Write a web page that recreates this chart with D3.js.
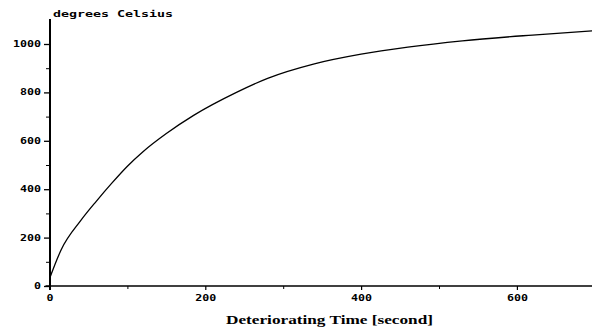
<!DOCTYPE html>
<html>
<head>
<meta charset="utf-8">
<script src="https://cdn.jsdelivr.net/npm/d3@7"></script>
<style>
  html, body { margin: 0; padding: 0; background: #fff; }
  svg { display: block; }
</style>
</head>
<body>
<div id="chart"></div>
<script>
// time in seconds vs temperature in degrees Celsius
const timeSec = [0, 15, 40, 60, 80, 100, 120, 150, 185, 240, 280, 340, 400, 460, 530, 620, 700];
const tempC = [30, 150, 270, 350, 425, 495, 555, 630, 705, 800, 858, 918, 958, 987, 1013, 1037, 1055];
const xTicks = [0, 200, 400, 600];
const xMinor = [100, 300, 500];
const yTicks = [0, 200, 400, 600, 800, 1000];
const yMinor = [100, 300, 500, 700, 900];

const width = 592;
const height = 336;

const svg = d3
  .select('#chart')
  .append('svg')
  .attr('width', width)
  .attr('height', height);

// Scales
const x = d3.scaleLinear().domain([0, 700]).range([49.5, 594.8]);
const y = d3.scaleLinear().domain([0, 1000]).range([286, 44]);

const monoLabels = (sel) =>
  sel
    .selectAll('text')
    .attr('font-family', '"DejaVu Sans Mono", monospace')
    .attr('font-weight', 'bold')
    .attr('font-size', 8)
    .attr('fill', '#000')
    .attr('textLength', (d) => String(d).length * 7)
    .attr('lengthAdjust', 'spacingAndGlyphs');

// X axis
const xAxis = svg
  .append('g')
  .attr('transform', 'translate(0,286)')
  .call(d3.axisBottom(x).tickValues(xTicks).tickFormat(d3.format('d')).tickSize(4).tickPadding(5))
  .call(monoLabels);
xAxis.select('.domain').remove();
xAxis.selectAll('line').attr('stroke', '#000').attr('stroke-width', 1.2);

svg
  .append('g')
  .attr('transform', 'translate(0,286)')
  .call(d3.axisBottom(x).tickValues(xMinor).tickSize(3).tickFormat(''))
  .call((g) => g.select('.domain').remove())
  .selectAll('line')
  .attr('stroke', '#000');

svg
  .append('line')
  .attr('x1', x(0) - 4)
  .attr('x2', width)
  .attr('y1', y(0))
  .attr('y2', y(0))
  .attr('stroke', '#000')
  .attr('stroke-width', 1.4);

// Y axis
const yAxis = svg
  .append('g')
  .attr('transform', 'translate(50,0)')
  .call(d3.axisLeft(y).tickValues(yTicks).tickFormat(d3.format('d')).tickSize(6).tickPadding(3))
  .call(monoLabels);
yAxis.select('.domain').remove();
yAxis.selectAll('line').attr('stroke', '#000').attr('stroke-width', 1.3);

svg
  .append('g')
  .attr('transform', 'translate(50,0)')
  .call(d3.axisLeft(y).tickValues(yMinor).tickSize(4).tickFormat(''))
  .call((g) => g.select('.domain').remove())
  .selectAll('line')
  .attr('stroke', '#000');

svg
  .append('line')
  .attr('x1', 50)
  .attr('x2', 50)
  .attr('y1', y(1103))
  .attr('y2', y(0) + 4)
  .attr('stroke', '#000')
  .attr('stroke-width', 2);

// Axis titles
svg
  .append('text')
  .attr('x', 53)
  .attr('y', 16.5)
  .attr('font-family', '"DejaVu Sans Mono", monospace')
  .attr('font-weight', 'bold')
  .attr('font-size', 9)
  .attr('textLength', 120)
  .attr('lengthAdjust', 'spacingAndGlyphs')
  .text('degrees Celsius');

svg
  .append('text')
  .attr('x', 226)
  .attr('y', 324)
  .attr('font-family', '"Liberation Serif", serif')
  .attr('font-weight', 'bold')
  .attr('font-size', 12)
  .attr('textLength', 207)
  .attr('lengthAdjust', 'spacingAndGlyphs')
  .text('Deteriorating Time [second]');

// Line
const data = timeSec.map((t, i) => ({ t, v: tempC[i] }));
const line = d3
  .line()
  .x((d) => x(d.t))
  .y((d) => y(d.v))
  .curve(d3.curveMonotoneX);

svg
  .append('path')
  .datum(data)
  .attr('fill', 'none')
  .attr('stroke', '#000')
  .attr('stroke-width', 1.3)
  .attr('d', line);
</script>
</body>
</html>
